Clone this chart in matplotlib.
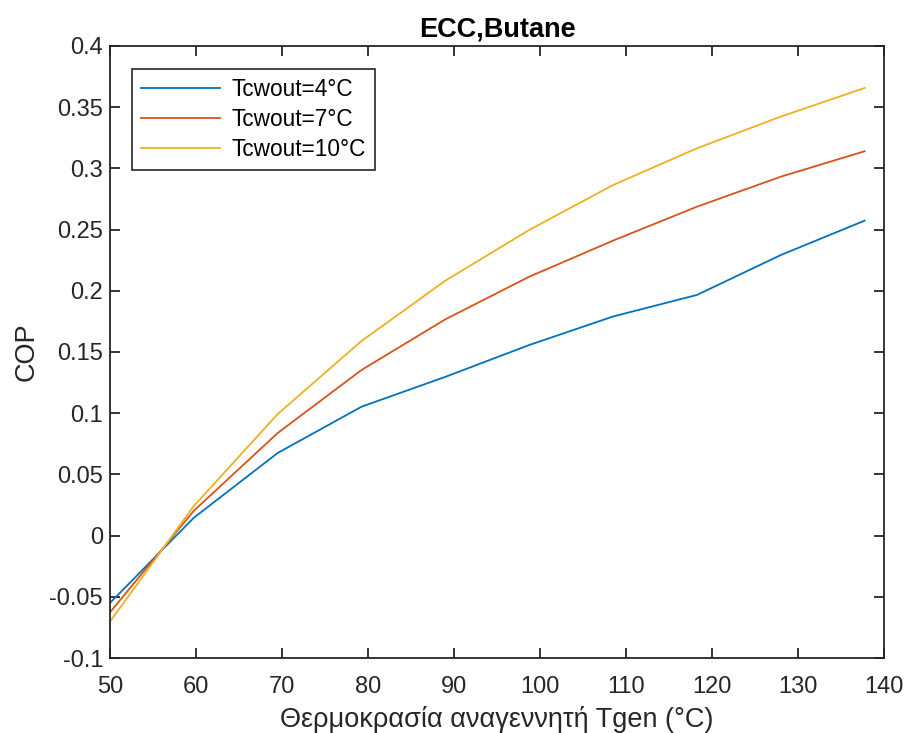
import numpy as np
import matplotlib
matplotlib.use('Agg')
import matplotlib.pyplot as plt

plt.rcParams['font.family'] = ['Liberation Sans', 'DejaVu Sans']
plt.rcParams['axes.unicode_minus'] = False

# generator temperature (°C)
tgen = [50, 59.75, 69.5, 79.25, 89, 98.75, 108.5, 118.25, 128, 137.75]

# COP for each condenser water outlet temperature
cop_4 = [-0.055, 0.0146, 0.0675, 0.1053, 0.1297, 0.1557, 0.179, 0.1966, 0.2292, 0.2573]
cop_7 = [-0.0627, 0.0203, 0.0838, 0.1353, 0.1767, 0.2115, 0.241, 0.2687, 0.2932, 0.314]
cop_10 = [-0.0703, 0.0242, 0.0993, 0.159, 0.2083, 0.2497, 0.2864, 0.3164, 0.3423, 0.3657]

labels = ['Tcwout=4°C', 'Tcwout=7°C', 'Tcwout=10°C']
colors = ['#0072BD', '#D95319', '#EDB120']

fig = plt.figure(figsize=(9.09, 7.33), dpi=100)
ax = fig.add_axes([0.121, 0.1023, 0.8515, 0.835])

for y, lab, c in zip([cop_4, cop_7, cop_10], labels, colors):
    ax.plot(tgen, y, color=c, lw=1.3, label=lab)

ax.set_xlim(50, 140)
ax.set_ylim(-0.1, 0.4)
ax.set_xticks(np.arange(50, 141, 10))
yt = np.round(np.arange(-0.1, 0.401, 0.05), 2)
ax.set_yticks(yt)
ax.set_yticklabels(['%g' % v for v in yt])

for s in ax.spines.values():
    s.set_color('#262626')
    s.set_linewidth(1.3)
ax.tick_params(direction='in', length=7, width=1.3, colors='#262626',
               labelcolor='#262626', labelsize=17, top=True, right=True)
ax.tick_params(axis='x', pad=13)
ax.tick_params(axis='y', pad=5)

ax.set_title('ECC,Butane', fontsize=19.5, fontweight='bold', pad=7, color='#000000')
ax.set_xlabel('Θερμοκρασία αναγεννητή Tgen (°C)', fontsize=19.5, color='#262626', labelpad=6)
ax.set_ylabel('COP', fontsize=19.5, color='#262626', labelpad=7)

leg = ax.legend(loc='upper left', fontsize=16.3, fancybox=False, framealpha=1,
                edgecolor='#262626', handlelength=3.5, handletextpad=0.5,
                labelspacing=0.3, borderpad=0.4, borderaxespad=0,
                bbox_to_anchor=(0.0284, 0.962))
leg.get_frame().set_linewidth(1.2)

fig.savefig('out.png', dpi=100)
